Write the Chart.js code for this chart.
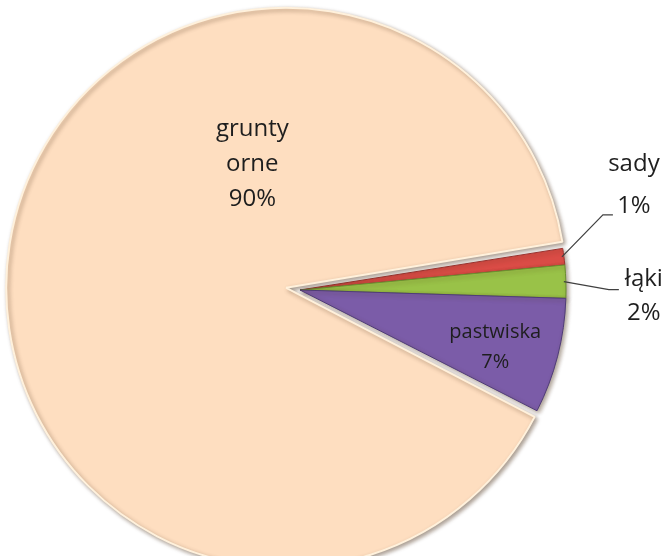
<!DOCTYPE html>
<html>
<head>
<meta charset="utf-8">
<script src="https://cdn.jsdelivr.net/npm/chart.js@4.4.1/dist/chart.umd.min.js"></script>
<style>
  html, body { margin: 0; padding: 0; background: #ffffff; }
  #wrap { width: 672px; height: 556px; position: relative; }
</style>
</head>
<body>
<div id="wrap"><canvas id="c"></canvas></div>
<script>
// ---- data ----
const categories = ['sady', 'łąki', 'pastwiska', 'grunty orne'];
const shares = [1, 2, 7, 90];
const pctLabels = ['1%', '2%', '7%', '90%'];

// ---- styles ----
const fills = ['#DA4C46', '#99C248', '#7B5CA8', '#FEDEC0'];
const edges = ['#9E3431', '#6A8F2F', '#4F3C78', '#FFF1DC'];
const edgeWidths = [1, 1, 1, 2];
const FONT = '"Open Sans", "Noto Sans", sans-serif';

// actual translation Chart.js applies for an arc's offset
function arcShift(offset, circ) {
  const fix = 1 - Math.sin(Math.min(Math.PI, circ || 0));
  return offset / 4 * (1 + fix);
}

const labelPlugin = {
  id: 'pieLabels',
  beforeDatasetsDraw(chart) {
    const ctx = chart.ctx;
    ctx.save();
    ctx.shadowColor = 'rgba(70,45,20,0.45)';
    ctx.shadowBlur = 4;
    ctx.shadowOffsetX = 2;
    ctx.shadowOffsetY = 2;
  },
  afterDatasetsDraw(chart) {
    const ctx = chart.ctx;
    ctx.restore();
    const meta = chart.getDatasetMeta(0);
    const geo = meta.data.map(a => {
      const p = a.getProps(['x', 'y', 'startAngle', 'endAngle', 'outerRadius', 'circumference'], true);
      const mid = (p.startAngle + p.endAngle) / 2;
      const d = arcShift(a.options.offset || 0, p.circumference);
      return { cx: p.x + Math.cos(mid) * d, cy: p.y + Math.sin(mid) * d, r: p.outerRadius, mid };
    });
    ctx.save();
    ctx.fillStyle = '#1E1E1E';
    ctx.textAlign = 'center';
    ctx.textBaseline = 'middle';

    // grunty orne (inside big slice)
    const g = geo[3];
    ctx.font = '24px ' + FONT;
    const gx = g.cx - 20, gy = g.cy - 121;
    const words = categories[3].split(' ');
    ctx.fillText(words[0], gx, gy - 35);
    ctx.fillText(words[1], gx, gy);
    ctx.fillText(pctLabels[3], gx, gy + 35);

    // pastwiska (inside)
    const p = geo[2];
    ctx.font = '20px ' + FONT;
    const px = p.cx + Math.cos(p.mid + 0.035) * p.r * 0.765;
    const py = p.cy + Math.sin(p.mid + 0.035) * p.r * 0.765;
    ctx.fillText(categories[2], px, py - 15);
    ctx.fillText(pctLabels[2], px, py + 15);

    // outside labels with leader lines
    ctx.strokeStyle = '#404040';
    ctx.lineWidth = 1.2;
    ctx.font = '24px ' + FONT;
    // sady
    const s = geo[0];
    const sx = s.cx + Math.cos(s.mid) * (s.r - 2), sy = s.cy + Math.sin(s.mid) * (s.r - 2);
    ctx.beginPath();
    ctx.moveTo(sx, sy);
    ctx.lineTo(sx + 41, sy - 42);
    ctx.lineTo(sx + 51, sy - 42);
    ctx.stroke();
    ctx.fillText(categories[0], sx + 72, sy - 93);
    ctx.fillText(pctLabels[0], sx + 72, sy - 51);
    // łąki
    const l = geo[1];
    const lx = l.cx + Math.cos(l.mid) * (l.r - 2), ly = l.cy + Math.sin(l.mid) * (l.r - 2);
    ctx.beginPath();
    ctx.moveTo(lx, ly);
    ctx.lineTo(lx + 45, ly + 8);
    ctx.lineTo(lx + 55, ly + 8);
    ctx.stroke();
    ctx.fillText(categories[1], lx + 80, ly - 3);
    ctx.fillText(pctLabels[1], lx + 80, ly + 31);
    ctx.restore();
  }
};

new Chart(document.getElementById('c'), {
  type: 'pie',
  data: {
    labels: categories,
    datasets: [{
      data: shares,
      backgroundColor: fills,
      borderColor: edges,
      borderWidth: edgeWidths,
      offset: [0, 0, 0, 56],
      radius: 266
    }]
  },
  options: {
    responsive: true,
    maintainAspectRatio: false,
    animation: false,
    rotation: 81,
    layout: { padding: { left: 0, right: 72, top: 24, bottom: 0 } },
    plugins: {
      legend: { display: false },
      tooltip: { enabled: false }
    }
  },
  plugins: [labelPlugin]
});
</script>
</body>
</html>
